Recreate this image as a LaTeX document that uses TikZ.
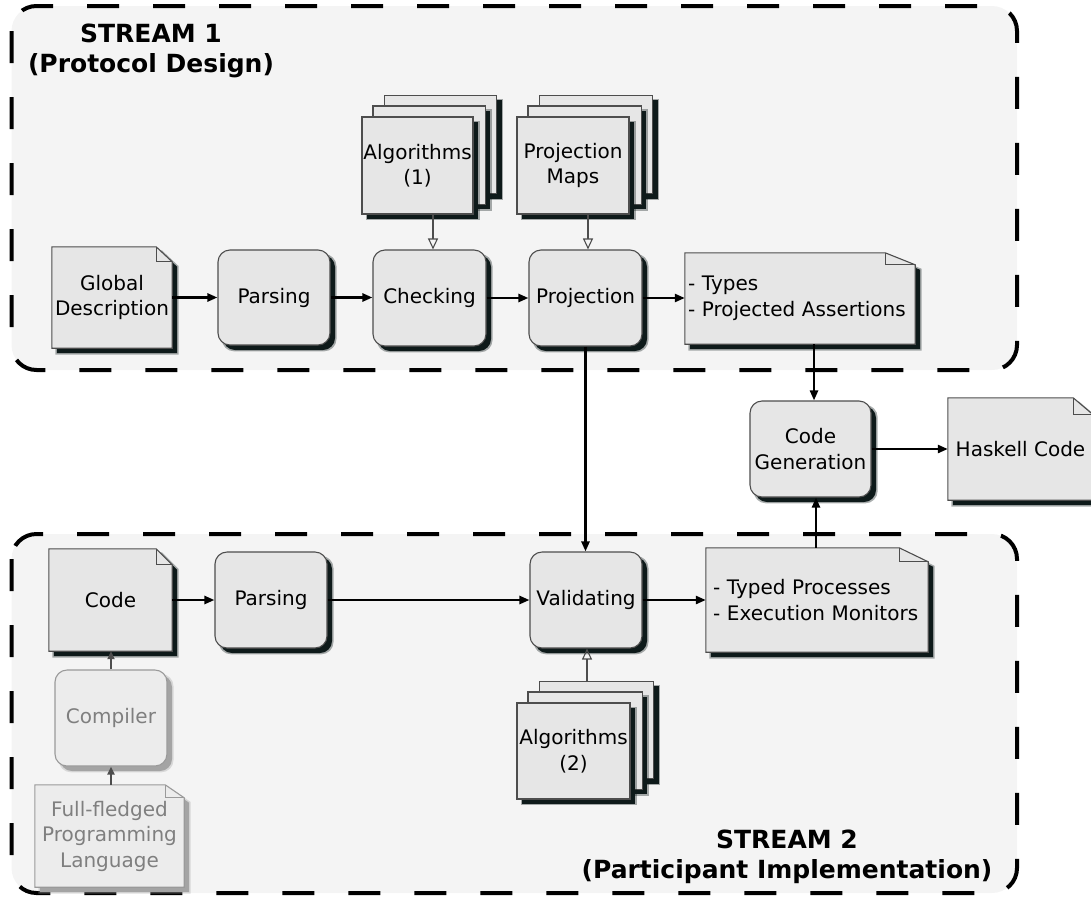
\documentclass[tikz,border=0pt]{standalone}
\usepackage{fontspec}
\setmainfont{DejaVu Sans}
\usetikzlibrary{arrows.meta,shadows}
\definecolor{streambg}{HTML}{F4F4F4}
\definecolor{boxfill}{HTML}{E6E6E6}
\definecolor{boxdraw}{HTML}{4D4D4D}
\definecolor{shadowc}{HTML}{0E1A1A}
\definecolor{lightfill}{HTML}{ECECEC}
\definecolor{lightdraw}{HTML}{9A9A9A}
\definecolor{lighttext}{HTML}{7F7F7F}
\definecolor{lightshadow}{HTML}{A4A4A4}
\pgfdeclarelayer{back}
\pgfdeclarelayer{shapes}
\pgfsetlayers{back,shapes,main}

% doc shape drawn from the anchors of a named node: node, fold width, fold height, fill, draw, shadow colour
\newcommand\drawdoc[6]{%
  \begin{pgfonlayer}{shapes}
  \draw[#6,line width=3pt,opacity=0.35] ([shift={(5,5)}]#1.north west) -- ([shift={(-#2+5,5)}]#1.north east) -- ([shift={(5,#3+5)}]#1.north east) -- ([shift={(5,5)}]#1.south east) -- ([shift={(5,5)}]#1.south west) -- cycle;
  \fill[#6] ([shift={(5,5)}]#1.north west) -- ([shift={(-#2+5,5)}]#1.north east) -- ([shift={(5,#3+5)}]#1.north east) -- ([shift={(5,5)}]#1.south east) -- ([shift={(5,5)}]#1.south west) -- cycle;
  \filldraw[fill=#4,draw=#5,line width=1.1pt,line join=miter] (#1.north west) -- ([shift={(-#2,0)}]#1.north east) -- ([shift={(0,#3)}]#1.north east) -- (#1.south east) -- (#1.south west) -- cycle;
  \draw[#5,line width=1.1pt] ([shift={(-#2,0)}]#1.north east) -- ([shift={(-#2,#3)}]#1.north east) -- ([shift={(0,#3)}]#1.north east);
  \end{pgfonlayer}}

\newcommand\stacklayer[3]{%
  \draw[shadowc,line width=3pt,opacity=0.35] ([shift={(#2+5,#3+5)}]#1.north west) rectangle ([shift={(#2+5,#3+5)}]#1.south east);
  \fill[shadowc] ([shift={(#2+5,#3+5)}]#1.north west) rectangle ([shift={(#2+5,#3+5)}]#1.south east);
  \filldraw[fill=boxfill,draw=boxdraw,line width=1.1pt] ([shift={(#2,#3)}]#1.north west) rectangle ([shift={(#2,#3)}]#1.south east);}

\newcommand\drawstack[1]{%
  \begin{pgfonlayer}{shapes}
  \stacklayer{#1}{23}{-21}
  \stacklayer{#1}{11.5}{-10.5}
  \end{pgfonlayer}}

\tikzset{
  every node/.style={font=\fontsize{20}{25.5}\selectfont, inner sep=0pt, align=center},
  boxshadow/.style={
    drop shadow={shadow xshift=5pt,shadow yshift=-5pt,shadow scale=1.025,fill=#1,opacity=0.35},
    drop shadow={shadow xshift=5pt,shadow yshift=-5pt,fill=#1,opacity=1}},
  boxshadow/.default=shadowc,
  proc/.style n args={2}{draw=boxdraw, line width=1.1pt, fill=boxfill, rounded corners=12pt,
     minimum width=#1, minimum height=#2, boxshadow},
  lightproc/.style n args={2}{draw=lightdraw, line width=1.1pt, fill=lightfill, rounded corners=12pt,
     minimum width=#1, minimum height=#2, text=lighttext, boxshadow=lightshadow},
  docn/.style n args={2}{minimum width=#1, minimum height=#2},
  stackn/.style n args={2}{draw=boxdraw, line width=1.1pt, fill=boxfill,
     minimum width=#1, minimum height=#2, boxshadow},
  arr/.style={line width=2.4pt, black, -{Triangle[length=10pt,width=8pt]}},
  oarr/.style={line width=1.1pt, boxdraw, -{Triangle[open,length=11pt,width=10pt,line width=1.1pt]}},
  garr/.style={line width=2pt, boxdraw, -{Triangle[length=8pt,width=7pt]}},
  streamfill/.style={fill=streambg, rounded corners=25pt},
  streamline/.style={draw=black, line width=4pt, dash pattern=on 32pt off 34pt, rounded corners=25pt},
  streamlabel/.style={font=\fontsize{25}{30}\bfseries\selectfont, align=center}
}

\begin{document}
\begin{tikzpicture}[x=1pt,y=-1pt]
\useasboundingbox (0,0) rectangle (1091,897);

% stream areas
\begin{pgfonlayer}{back}
\fill[streamfill] (11.5,6) rectangle (1017,370);
\draw[streamline] (11.5,6) rectangle (1017,370);
\fill[streamfill] (11.5,534) rectangle (1017,893);
\draw[streamline] (11.5,534) rectangle (1017,893);
\end{pgfonlayer}

\node[streamlabel] (s1) at (151,51) {STREAM 1\\(Protocol Design)};
\node[streamlabel] (s2) at (787,857) {STREAM 2\\(Participant Implementation)};

% stream 1
\node[docn={120pt}{101pt}] (gd) at (112,297.5) {Global\\Description};
\drawdoc{gd}{16}{15}{boxfill}{boxdraw}{shadowc}
\node[proc={112pt}{95pt}] (p1) at (274,297.5) {Parsing};
\node[proc={113pt}{96pt}] (chk) at (429.5,298) {Checking};
\node[proc={113pt}{96pt}] (proj) at (585.5,298) {Projection};
\node[docn={230pt}{91pt}, align=left, text width=224pt] (types) at (800,298.5) {- Types\\- Projected Assertions};
\drawdoc{types}{30}{12}{boxfill}{boxdraw}{shadowc}

\node[stackn={111pt}{97pt}] (alg1) at (417.5,165.5) {Algorithms\\(1)};
\drawstack{alg1}
\node[stackn={112pt}{97pt}] (pmaps) at (573,165.5) {Projection\\Maps};
\drawstack{pmaps}

% middle
\node[proc={121pt}{96pt}] (cg) at (810.5,449) {Code\\Generation};
\node[docn={145pt}{102pt}] (hask) at (1020.5,449) {Haskell Code};
\drawdoc{hask}{20}{17}{boxfill}{boxdraw}{shadowc}

% stream 2
\node[docn={123pt}{102pt}] (code) at (110.5,600) {Code};
\drawdoc{code}{16}{16}{boxfill}{boxdraw}{shadowc}
\node[proc={112pt}{96pt}] (p2) at (271,600) {Parsing};
\node[lightproc={112pt}{96pt}] (comp) at (111,718) {Compiler};
\node[docn={149pt}{102pt}, text=lighttext] (ffpl) at (109.5,836) {Full-fledged\\Programming\\Language};
\drawdoc{ffpl}{19}{13}{lightfill}{lightdraw}{lightshadow}
\node[proc={112pt}{96pt}] (val) at (586,600) {Validating};
\node[docn={222pt}{104pt}, align=left, text width=208pt] (typed) at (817,600) {- Typed Processes\\- Execution Monitors};
\drawdoc{typed}{29}{14}{boxfill}{boxdraw}{shadowc}
\node[stackn={113pt}{96pt}] (alg2) at (573.5,751) {Algorithms\\(2)};
\drawstack{alg2}

% connectors
\coordinate (xa) at (814,0);
\coordinate (xb) at (816,0);
\coordinate (alg2top) at (587,682);
\coordinate (alg1bot) at (433,214);
\coordinate (pmapsbot) at (588,214);

\draw[arr] (gd.east) -- (gd.east -| p1.west);
\draw[arr] (p1.east) -- (p1.east -| chk.west);
\draw[arr] (chk.east) -- (chk.east -| proj.west);
\draw[arr] (proj.east) -- (proj.east -| types.west);
\draw[oarr] (alg1bot) -- (alg1bot |- chk.north);
\draw[oarr] (pmapsbot) -- (pmapsbot |- proj.north);
\draw[arr] (xa |- types.south) -- (xa |- cg.north);
\draw[arr] (cg.east) -- (cg.east -| hask.west);
\draw[arr] (proj.south) -- (proj.south |- val.north);

\draw[arr] (code.east) -- (code.east -| p2.west);
\draw[arr] (p2.east) -- (p2.east -| val.west);
\draw[arr] (val.east) -- (val.east -| typed.west);
\draw[arr] (xb |- typed.north) -- (xb |- cg.south);
\draw[oarr] (alg2top) -- (alg2top |- val.south);
\draw[garr] (comp.north) -- (comp.north |- code.south);
\draw[garr] (comp.south |- ffpl.north) -- (comp.south);
\end{tikzpicture}
\end{document}
